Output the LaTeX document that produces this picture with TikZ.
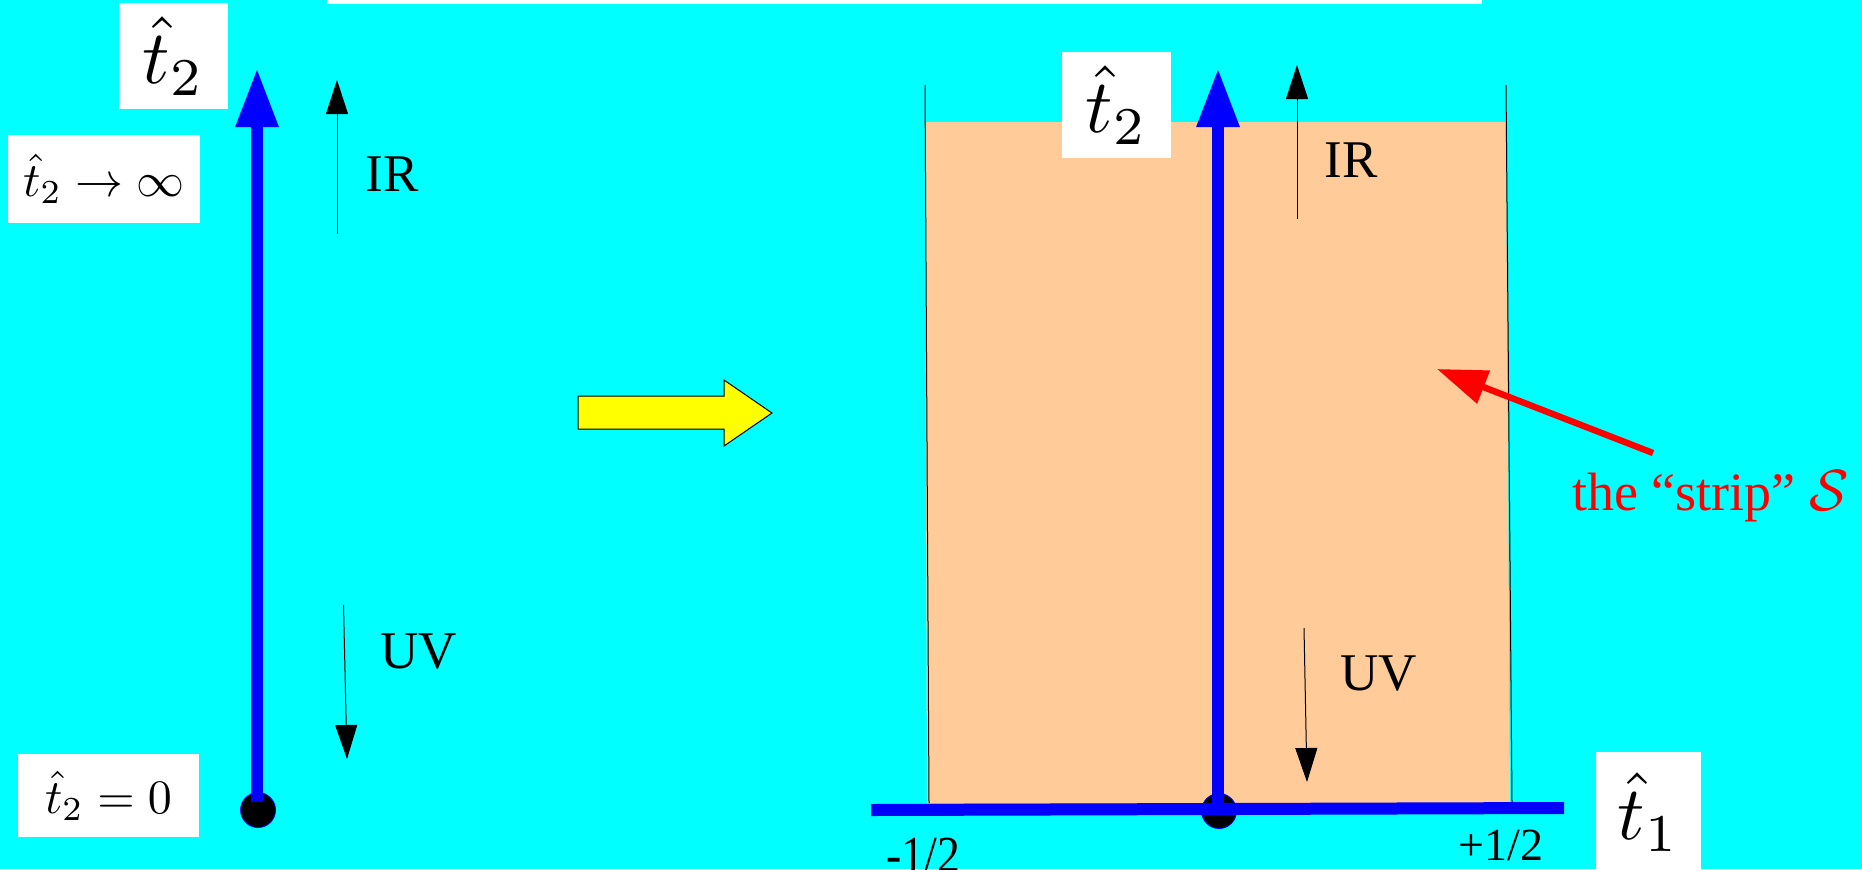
\documentclass[tikz,border=0pt]{standalone}
\usepackage{fontspec}
\usepackage{graphicx}
\usetikzlibrary{arrows.meta}
\newfontfamily\tnr{Liberation Serif}
\definecolor{bgcyan}{RGB}{0,255,255}
\definecolor{peach}{RGB}{255,204,153}
\definecolor{axisblue}{RGB}{0,0,255}
\definecolor{arrowyellow}{RGB}{255,255,0}
\definecolor{labelred}{RGB}{255,0,0}
\newcommand{\bigmath}[1]{\scalebox{3.8}{$#1$}}
\newcommand{\smallmath}[1]{\scalebox{2.4}{$#1$}}
\tikzset{
  axisline/.style={draw=axisblue, line width=6pt},
  axisarrow/.style={axisline, -{Triangle[length=29.5pt,width=20pt]}},
  flowarrow/.style={draw=black, line width=0.5pt, -{Triangle[length=17pt,width=11pt]}},
  flowlabel/.style={inner sep=0pt, anchor=base west, font=\tnr\fontsize{26.5}{30}\selectfont},
  mathbox/.style={fill=white, inner sep=0pt},
  ticklabel/.style={inner sep=0pt, anchor=base west},
  origindot/.style={circle, fill=black, draw=axisblue, line width=0.4pt, inner sep=0pt, minimum size=17.5pt},
  edgeline/.style={draw=black, line width=0.5pt},
  redarrow/.style={draw=labelred, line width=3.2pt, -{Triangle[length=25pt,width=17pt]}},
}
\begin{document}
\begin{tikzpicture}[x=0.5pt,y=-0.5pt]
\useasboundingbox (0,0) rectangle (1862,869);
\fill[bgcyan] (0,0) rectangle (1862,869);
\fill[white] (327,0) rectangle (1482,4);

% strip
\fill[peach] (925,122) -- (1506,122) -- (1510,803) -- (927,803) -- cycle;
\coordinate (sLtop) at (925,85);
\coordinate (sLbot) at (929,803);
\coordinate (sRtop) at (1506,85);
\coordinate (sRbot) at (1512,803);
\draw[edgeline] (sLtop) -- (sLbot);
\draw[edgeline] (sRtop) -- (sRbot);

% left axis
\node[origindot] (ldot) at (258,810) {};
\coordinate (lbase) at (257,802);
\coordinate (ltop) at (257,68);
\draw[axisarrow] (lbase) -- (ltop);

% right axes
\node[origindot] (rdot) at (1219,811) {};
\coordinate (axL) at (871,810);
\coordinate (axR) at (1564,808);
\draw[axisline] (axL) -- (axR);
\coordinate (rbase) at (1218,811);
\coordinate (rtop) at (1218,68);
\draw[axisarrow] (rbase) -- (rtop);

% IR / UV arrows left
\coordinate (lirA) at (337,234);
\coordinate (lirB) at (337,80);
\draw[flowarrow] (lirA) -- (lirB);
\coordinate (luvA) at (343.5,605);
\coordinate (luvB) at (347,759);
\draw[flowarrow] (luvA) -- (luvB);
\node[flowlabel] (lIR) at (365,191) {IR};
\node[flowlabel] (lUV) at (380,668) {UV};

% IR / UV arrows right
\coordinate (rirA) at (1297,219);
\coordinate (rirB) at (1297,65);
\draw[flowarrow] (rirA) -- (rirB);
\coordinate (ruvA) at (1304,628);
\coordinate (ruvB) at (1307,782);
\draw[flowarrow] (ruvA) -- (ruvB);
\node[flowlabel] (rIR) at (1324,177) {IR};
\node[flowlabel] (rUV) at (1340,690) {UV};

% yellow arrow
\filldraw[fill=arrowyellow, draw=black, line width=0.5pt]
  (578,396) -- (724,396) -- (724,380) -- (772,413) -- (724,446) -- (724,429) -- (578,429) -- cycle;

% math labels
\node[mathbox, minimum width=54.5pt, minimum height=53pt] (lt2) at (173.5,56) {\bigmath{\hat{t}_2}};
\node[mathbox, minimum width=96pt, minimum height=44pt] (linf) at (104,179) {\smallmath{\hat{t}_2\to\infty}};
\node[mathbox, minimum width=90.5pt, minimum height=41.5pt] (lzero) at (108.5,795.5) {\smallmath{\hat{t}_2=0}};
\node[mathbox, minimum width=54.5pt, minimum height=53pt] (rt2) at (1116.5,105) {\bigmath{\hat{t}_2}};
\node[mathbox, minimum width=52.5pt, minimum height=60pt] (rt1) at (1648.5,812) {\bigmath{\hat{t}_1}};

% tick labels
\node[ticklabel, font=\tnr\fontsize{26}{30}\selectfont] (mhalf) at (886,872) {\scalebox{0.88}[1]{-1/2}};
\node[ticklabel, font=\tnr\fontsize{23}{26}\selectfont] (phalf) at (1458,860) {+1/2};

% strip label
\node[inner sep=0pt, anchor=base west, text=labelred, font=\tnr\fontsize{27}{30}\selectfont] (strip) at (1572,510) {the “strip” \scalebox{2.9}{\fontsize{10}{12}\selectfont$\mathcal{S}$}};
\coordinate (redtail) at (1653,453);
\coordinate (redtip) at (1437,369);
\draw[redarrow] (redtail) -- (redtip);
\end{tikzpicture}
\end{document}
